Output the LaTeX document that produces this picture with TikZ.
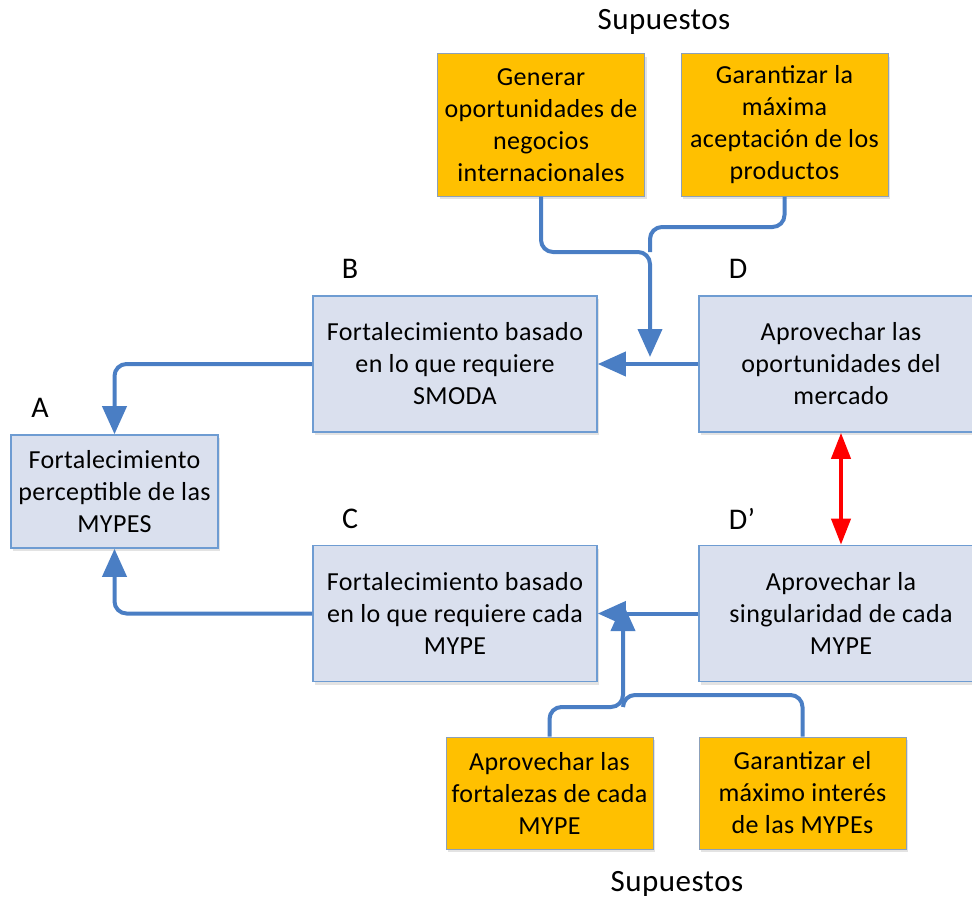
\documentclass[tikz,border=0pt]{standalone}
\usepackage{fontspec}
\setmainfont{Carlito}[LetterSpace=1.5]
\usetikzlibrary{arrows.meta,shadows}

\definecolor{boxfill}{RGB}{218,224,238}
\definecolor{boxline}{RGB}{110,156,210}
\definecolor{ambar}{RGB}{255,192,0}
\definecolor{ambarline}{RGB}{140,160,185}
\definecolor{flowblue}{RGB}{74,126,196}

\tikzset{
  base/.style={inner sep=0pt, align=center, font=\fontsize{26}{32}\selectfont,
    drop shadow={opacity=0.22, shadow xshift=2pt, shadow yshift=-3pt}},
  bluebox/.style={base, draw=boxline, line width=1.6pt, fill=boxfill,
    minimum width=284pt, minimum height=136pt},
  smallbluebox/.style={base, draw=boxline, line width=1.6pt, fill=boxfill,
    minimum width=207pt, minimum height=113pt},
  ambarbox/.style={base, draw=ambarline, line width=1pt, fill=ambar,
    minimum width=207pt, minimum height=142pt},
  ambarlow/.style={ambarbox, minimum height=112pt},
  tag/.style={inner sep=0pt, font=\fontsize{30}{32}\selectfont},
  heading/.style={inner sep=0pt, font=\fontsize{31}{34}\selectfont},
  flow/.style={draw=flowblue, line width=4pt, rounded corners=12pt},
  tip/.style={-{Triangle[length=28pt,width=24pt]}},
  link/.style={<->, >={Triangle[length=26pt,width=19pt]}, draw=red, line width=4pt}
}

\begin{document}
\begin{tikzpicture}[x=1pt,y=-1pt]
\useasboundingbox (0,0) rectangle (972,899);

% headings
\node[heading] (supA) at (664,22) {Supuestos};
\node[heading] (supB) at (677,884) {Supuestos};

% assumptions
\node[ambarbox] (g1) at (541,125) {Generar\\oportunidades de\\negocios\\internacionales};
\node[ambarbox] (g2) at (784.5,125) {Garantizar la\\máxima\\aceptación de los\\productos};
\node[ambarlow] (g3) at (549.5,793) {Aprovechar las\\fortalezas de cada\\MYPE};
\node[ambarlow] (g4) at (802.5,793) {Garantizar el\\máximo interés\\de las MYPEs};

% main boxes
\node[smallbluebox] (A) at (114.5,491.5) {Fortalecimiento\\perceptible de las\\MYPES};
\node[bluebox] (B) at (455,364) {Fortalecimiento basado\\en lo que requiere\\SMODA};
\node[bluebox] (C) at (455,613.5) {Fortalecimiento basado\\en lo que requiere cada\\MYPE};
\node[bluebox] (D) at (841,364) {Aprovechar las\\oportunidades del\\mercado};
\node[bluebox] (Dp) at (841,613.5) {Aprovechar la\\singularidad de cada\\MYPE};

% letters
\node[tag] (lA) at (40,408) {A};
\node[tag] (lB) at (350,269) {B};
\node[tag] (lC) at (350,519) {C};
\node[tag] (lD) at (738,269) {D};
\node[tag] (lDp) at (742,519) {D’};

% junction points
\coordinate (jt) at (650,357);
\coordinate (jt1) at (650,252);
\coordinate (jt2) at (650,227);
\coordinate (jb) at (623,603);
\coordinate (jb1) at (623,707);
\coordinate (jb2) at (623,695);

% connectors
\draw[flow, tip] (D.west) -- (B.east);
\draw[flow, tip] (Dp.west) -- (C.east);
\draw[flow, tip] (B.west) -| (A.north);
\draw[flow, tip] (C.west) -| (A.south);
\draw[flow] (g2.south) |- (jt2) -- (jt1);
\draw[flow, tip] (g1.south) |- (jt1) -- (jt);
\draw[flow] (g4.north) |- (jb2) -- (jb1);
\draw[flow, tip] (g3.north) |- (jb1) -- (jb);
\draw[link] (D.south) -- (Dp.north);
\end{tikzpicture}
\end{document}
